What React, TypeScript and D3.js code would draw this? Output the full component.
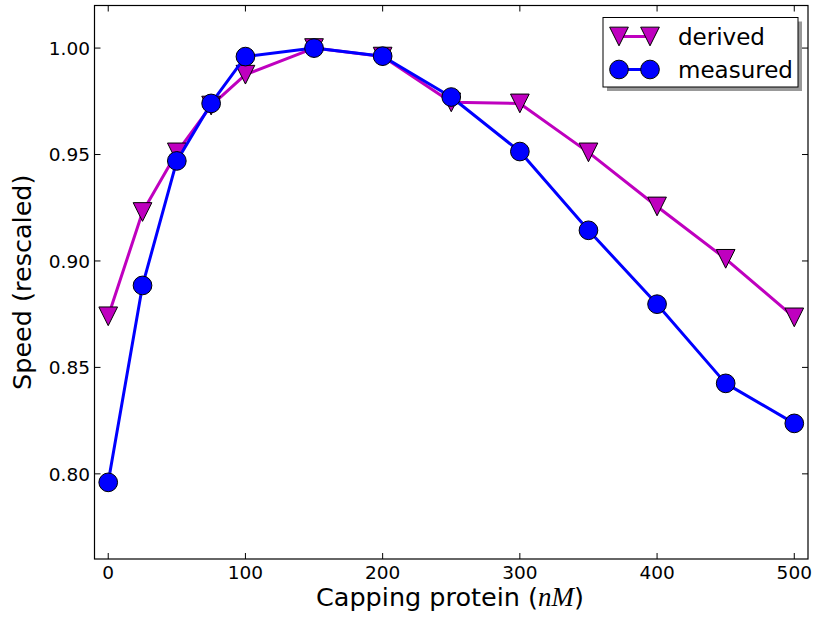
import React from "react";
import * as d3 from "d3";

const concentrations = [0, 25, 50, 75, 100, 150, 200, 250, 300, 350, 400, 450, 500];
const derived = [0.874, 0.923, 0.951, 0.973, 0.9875, 1.0, 0.996, 0.9745, 0.974, 0.951, 0.9256, 0.901, 0.8735];
const measured = [0.796, 0.8885, 0.947, 0.974, 0.996, 1.0, 0.9962, 0.977, 0.9514, 0.9144, 0.8797, 0.8425, 0.8237];
const xTicks = [0, 100, 200, 300, 400, 500];
const yTicks = [0.8, 0.85, 0.9, 0.95, 1.0];
const seriesNames = ["derived", "measured"];

const W = 817;
const H = 619;
const L = 94.5, R = 808, T = 5.5, B = 559;
const MAGENTA = "#bf00bf";
const BLUE = "#0000ff";
const MR = 9.35;
const FONT = "'DejaVu Sans', sans-serif";

const tri = (r: number) => `M0,${r}L${-r},${-r}L${r},${-r}Z`;

export default function App() {
  const x = d3.scaleLinear().domain([-10, 510]).range([L, R]);
  const y = d3.scaleLinear().domain([0.76, 1.02]).range([B, T]);
  const line = d3
    .line<[number, number]>()
    .x((d) => x(d[0]))
    .y((d) => y(d[1]));
  const dPts = concentrations.map((c, i) => [c, derived[i]] as [number, number]);
  const mPts = concentrations.map((c, i) => [c, measured[i]] as [number, number]);
  const tickLen = 6;

  const lgX = 603, lgY = 17.5, lgW = 195, lgH = 69.5;
  const rows = [lgY + 19, lgY + 52];
  const mx1 = 619, mx2 = 650;

  return (
    <svg width={W} height={H} style={{ position: "absolute", left: 0, top: 0, background: "#fff" }}>
      <rect x={0} y={0} width={W} height={H} fill="#fff" />
      {/* lines and markers */}
      <path d={line(dPts) || ""} fill="none" stroke={MAGENTA} strokeWidth={3} strokeLinejoin="round" />
      {dPts.map((p, i) => (
        <path key={"d" + i} d={tri(MR)} transform={`translate(${x(p[0])},${y(p[1])})`} fill={MAGENTA} stroke="#000" strokeWidth={1} />
      ))}
      <path d={line(mPts) || ""} fill="none" stroke={BLUE} strokeWidth={3} strokeLinejoin="round" />
      {mPts.map((p, i) => (
        <circle key={"m" + i} cx={x(p[0])} cy={y(p[1])} r={MR} fill={BLUE} stroke="#000" strokeWidth={1} />
      ))}

      {/* frame */}
      <rect x={L} y={T} width={R - L} height={B - T} fill="none" stroke="#000" strokeWidth={1.2} />
      {xTicks.map((t) => (
        <g key={"xt" + t}>
          <line x1={x(t)} x2={x(t)} y1={B} y2={B - tickLen} stroke="#000" strokeWidth={1} />
          <line x1={x(t)} x2={x(t)} y1={T} y2={T + tickLen} stroke="#000" strokeWidth={1} />
          <text x={x(t)} y={579} textAnchor="middle" fontFamily={FONT} fontSize={18.5}>
            {t}
          </text>
        </g>
      ))}
      {yTicks.map((t) => (
        <g key={"yt" + t}>
          <line x1={L} x2={L + tickLen} y1={y(t)} y2={y(t)} stroke="#000" strokeWidth={1} />
          <line x1={R} x2={R - tickLen} y1={y(t)} y2={y(t)} stroke="#000" strokeWidth={1} />
          <text x={90} y={y(t)} dy="0.36em" textAnchor="end" fontFamily={FONT} fontSize={18.5}>
            {t.toFixed(2)}
          </text>
        </g>
      ))}

      {/* axis labels */}
      <text x={450} y={606} textAnchor="middle" fontFamily={FONT} fontSize={25.5}>
        Capping protein (
        <tspan fontFamily="'Liberation Serif', serif" fontStyle="italic" fontSize={27}>nM</tspan>)
      </text>
      <text transform={`translate(31,${(T + B) / 2}) rotate(-90)`} textAnchor="middle" fontFamily={FONT} fontSize={25.5}>
        Speed (rescaled)
      </text>

      {/* legend */}
      <rect x={lgX + 4} y={lgY + 4} width={lgW} height={lgH} fill="#999" />
      <rect x={lgX} y={lgY} width={lgW} height={lgH} fill="#fff" stroke="#000" strokeWidth={1} />
      <line x1={mx1} x2={mx2} y1={rows[0]} y2={rows[0]} stroke={MAGENTA} strokeWidth={3} />
      <path d={tri(MR)} transform={`translate(${mx1},${rows[0]})`} fill={MAGENTA} stroke="#000" strokeWidth={1} />
      <path d={tri(MR)} transform={`translate(${mx2},${rows[0]})`} fill={MAGENTA} stroke="#000" strokeWidth={1} />
      <line x1={mx1} x2={mx2} y1={rows[1]} y2={rows[1]} stroke={BLUE} strokeWidth={3} />
      <circle cx={mx1} cy={rows[1]} r={MR} fill={BLUE} stroke="#000" strokeWidth={1} />
      <circle cx={mx2} cy={rows[1]} r={MR} fill={BLUE} stroke="#000" strokeWidth={1} />
      {seriesNames.map((n, i) => (
        <text key={n} x={678} y={rows[i]} dy="0.36em" fontFamily={FONT} fontSize={23}>
          {n}
        </text>
      ))}
    </svg>
  );
}
